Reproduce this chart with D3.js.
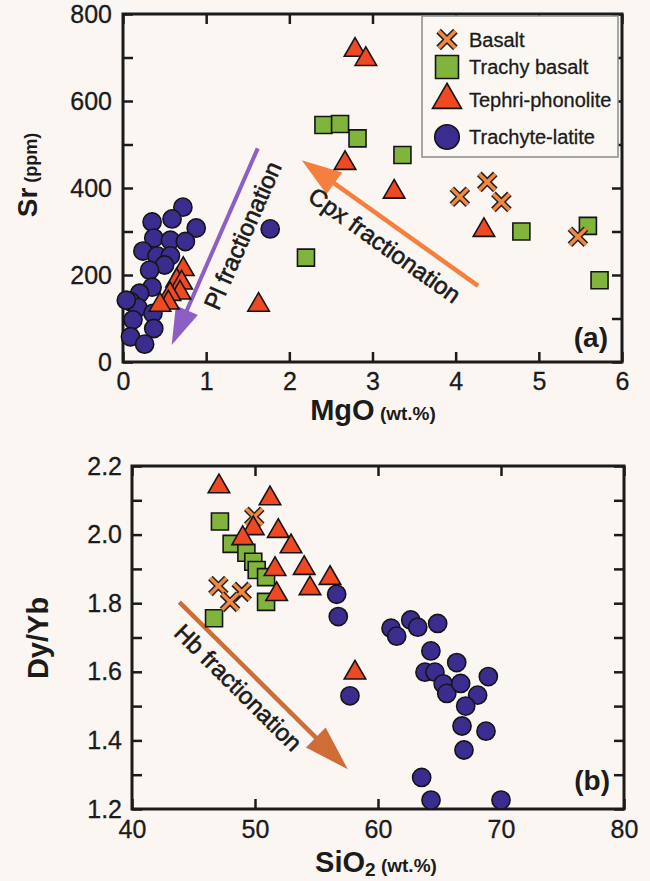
<!DOCTYPE html>
<html>
<head>
<meta charset="utf-8">
<script src="https://cdn.jsdelivr.net/npm/d3@7"></script>
<style>
  body { margin: 0; background: #fbf6f2; }
  svg { display: block; font-family: "Liberation Sans", Arial, Helvetica, sans-serif; }
</style>
</head>
<body>
<svg id="chart" width="650" height="881"></svg>
<script>
// --------------- Data ---------------
const SERIES = ["Basalt", "Trachy basalt", "Tephri-phonolite", "Trachyte-latite"];

// panel (a): MgO (wt.%) vs Sr (ppm)
const mgoBasalt = [4.05, 4.38, 4.55, 5.47];
const srBasalt = [380, 414, 368, 288];
const mgoTrachyBasalt = [2.41, 2.61, 2.82, 3.36, 2.20, 4.79, 5.59, 5.73];
const srTrachyBasalt = [545, 547, 514, 476, 240, 300, 313, 188];
const mgoTephri = [2.79, 2.92, 2.67, 3.26, 4.34, 1.63, 0.725, 0.645, 0.705, 0.685, 0.565, 0.545, 0.445];
const srTephri = [717, 696, 457, 391, 303, 131, 213, 187, 182, 159, 156, 136, 131];
const mgoTrachyte = [0.72, 0.59, 0.35, 0.88, 0.37, 0.57, 0.75, 0.24, 0.41, 0.57, 0.50, 0.32,
  0.35, 0.20, 0.09, 0.18, 0.36, 0.12, 0.37, 0.09, 0.26, 0.04, 1.77];
const srTrachyte = [356, 329, 322, 308, 285, 280, 277, 255, 244, 244, 223, 211,
  172, 158, 139, 125, 112, 97, 77, 58, 41, 142, 306];

// panel (b): SiO2 (wt.%) vs Dy/Yb
const sioBasalt = [49.94, 47.02, 48.92, 47.97];
const dyBasalt = [2.052, 1.850, 1.833, 1.804];
const sioTrachyBasalt = [47.15, 48.1, 49.3, 49.86, 50.14, 50.9, 50.9, 46.67];
const dyTrachyBasalt = [2.038, 1.973, 1.947, 1.921, 1.897, 1.876, 1.804, 1.756];
const sioTephri = [47.07, 51.22, 49.86, 51.89, 49.0, 52.93, 51.63, 54.0, 56.1, 54.47, 51.76, 58.13];
const dyTephri = [2.140, 2.105, 2.018, 2.010, 1.989, 1.965, 1.899, 1.902, 1.873, 1.843, 1.826, 1.597];
const sioTrachyte = [56.64, 56.77, 57.72, 61.06, 61.52, 62.66, 63.23, 64.85, 64.3, 66.4, 63.82, 64.63,
  65.3, 65.59, 66.72, 68.97, 68.1, 67.13, 66.83, 68.78, 66.99, 63.55, 64.31, 70.0];
const dyTrachyte = [1.826, 1.761, 1.530, 1.727, 1.704, 1.751, 1.730, 1.741, 1.661, 1.627, 1.599, 1.599,
  1.565, 1.537, 1.566, 1.586, 1.532, 1.500, 1.442, 1.427, 1.372, 1.292, 1.226, 1.226];

// axis ticks
const mgoTicks = [0, 1, 2, 3, 4, 5, 6];
const srTicks = [0, 100, 200, 300, 400, 500, 600, 700, 800];
const sioTicks = [40, 50, 60, 70, 80];
const dyTicks = [1.2, 1.3, 1.4, 1.5, 1.6, 1.7, 1.8, 1.9, 2.0, 2.1, 2.2];

// fractionation trends: [tail, tip] in data units
const plArrow = [[1.62, 491], [0.585, 39]];
const cpxArrow = [[4.27, 175], [2.15, 464]];
const hbArrow = [[43.85, 1.803], [57.54, 1.316]];

// --------------- Constants ---------------
const COLORS = { Basalt: "#f3873f", "Trachy basalt": "#80b43c", "Tephri-phonolite": "#ef4823", "Trachyte-latite": "#3a2d8f" };
const INK = "#1b1b1b";

const svg = d3.select("#chart");
svg.append("rect").attr("width", 650).attr("height", 881).attr("fill", "#fbf6f2");

const xA = d3.scaleLinear().domain([0, 6]).range([123, 622]);
const yA = d3.scaleLinear().domain([0, 800]).range([362, 14]);
const xB = d3.scaleLinear().domain([40, 80]).range([132, 624]);
const yB = d3.scaleLinear().domain([1.2, 2.2]).range([809, 466]);

// --------------- Helper Functions ---------------
const drawFrame = (g, x, y, o) => {
  const [x0, x1] = x.range(), [y0, y1] = y.range();
  const style = (sel) => {
    sel.select(".domain").remove();
    sel.selectAll(".tick line").attr("stroke", INK).attr("stroke-width", 2.5);
    sel.selectAll(".tick text").attr("fill", INK).attr("font-size", 25)
      .attr("stroke", INK).attr("stroke-width", 0.3);
  };
  g.append("g").attr("transform", `translate(${x0},0)`)
    .call(d3.axisLeft(y).tickValues(o.yTicks).tickSize(-10).tickPadding(o.yPad).tickFormat(o.yFmt))
    .call(style);
  g.append("g").attr("transform", `translate(${x1},0)`)
    .call(d3.axisRight(y).tickValues(o.yTicks).tickSize(-10).tickFormat(""))
    .call(style);
  g.append("g").attr("transform", `translate(0,${y0})`)
    .call(d3.axisBottom(x).tickValues(o.xTicks).tickSize(-10).tickPadding(o.xPad).tickFormat(d3.format("d")))
    .call(style);
  g.append("g").attr("transform", `translate(0,${y1})`)
    .call(d3.axisTop(x).tickValues(o.xTicks).tickSize(-10).tickFormat(""))
    .call(style);
  g.append("rect").attr("x", x0).attr("y", y1).attr("width", x1 - x0).attr("height", y0 - y1)
    .attr("fill", "none").attr("stroke", INK).attr("stroke-width", 3);
};

const symbolPath = (name, k = 1) => {
  if (name === "Basalt") {
    const r = 8 * k;
    return `M${-r},${-r}L${r},${r}M${-r},${r}L${r},${-r}`;
  }
  const type = { "Trachy basalt": d3.symbolSquare, "Tephri-phonolite": d3.symbolTriangle, "Trachyte-latite": d3.symbolCircle }[name];
  const size = { "Trachy basalt": 289, "Tephri-phonolite": 200, "Trachyte-latite": 260 }[name];
  return d3.symbol().type(type).size(size * k * k)();
};

const drawSymbol = (g, name, cx, cy, k = 1) => {
  const s = g.append("g").attr("transform", `translate(${cx},${cy})`);
  if (name === "Basalt") {
    s.append("path").attr("d", symbolPath(name, k)).attr("stroke", "#222").attr("stroke-width", 6.5).attr("fill", "none");
    s.append("path").attr("d", symbolPath(name, k)).attr("stroke", COLORS[name]).attr("stroke-width", 3.5).attr("fill", "none");
  } else {
    s.append("path").attr("d", symbolPath(name, k)).attr("fill", COLORS[name])
      .attr("stroke", "#151515").attr("stroke-width", 1.6);
  }
};

const drawSeries = (g, x, y, name, xs, ys) => {
  xs.forEach((v, i) => drawSymbol(g, name, x(v), y(ys[i])));
};

const drawArrow = (g, x, y, pts, o) => {
  const [x0, y0] = [x(pts[0][0]), y(pts[0][1])];
  const [x1, y1] = [x(pts[1][0]), y(pts[1][1])];
  const len = Math.hypot(x1 - x0, y1 - y0);
  const ux = (x1 - x0) / len, uy = (y1 - y0) / len;
  const bx = x1 - ux * o.head, by = y1 - uy * o.head;
  g.append("line").attr("x1", x0).attr("y1", y0).attr("x2", bx + ux * 3).attr("y2", by + uy * 3)
    .attr("stroke", o.color).attr("stroke-width", o.width);
  g.append("path")
    .attr("d", `M${x1},${y1}L${bx - uy * o.half},${by + ux * o.half}L${bx + uy * o.half},${by - ux * o.half}Z`)
    .attr("fill", o.color);
  // label along the arrow
  let ang = Math.atan2(y1 - y0, x1 - x0) * 180 / Math.PI;
  if (x1 < x0) ang += 180;
  const px = x0 + (x1 - x0) * o.t, py = y0 + (y1 - y0) * o.t;
  g.append("text")
    .attr("transform", `translate(${px},${py}) rotate(${ang})`)
    .attr("y", o.offset)
    .attr("text-anchor", "middle")
    .attr("dominant-baseline", "central")
    .attr("font-size", 24)
    .attr("fill", INK)
    .attr("stroke", INK).attr("stroke-width", 0.6)
    .text(o.label);
};

// --------------- Panel (a) ---------------
const ga = svg.append("g");
drawFrame(ga, xA, yA, {
  yTicks: srTicks, xTicks: mgoTicks, yPad: 11, xPad: 10,
  yFmt: (d) => (d % 200 === 0 ? d : ""),
});
drawArrow(ga, xA, yA, plArrow, { color: "#8d5fc4", width: 4, head: 38, half: 12, t: 0.4, offset: 21, label: "Pl fractionation" });
drawArrow(ga, xA, yA, cpxArrow, { color: "#f47f3e", width: 4.5, head: 40, half: 13.5, t: 0.46, offset: 21, label: "Cpx fractionation" });
drawSeries(ga, xA, yA, "Trachyte-latite", mgoTrachyte, srTrachyte);
drawSeries(ga, xA, yA, "Trachy basalt", mgoTrachyBasalt, srTrachyBasalt);
drawSeries(ga, xA, yA, "Basalt", mgoBasalt, srBasalt);
drawSeries(ga, xA, yA, "Tephri-phonolite", mgoTephri, srTephri);

// legend
const lg = ga.append("g");
lg.append("rect").attr("x", 422).attr("y", 16).attr("width", 196).attr("height", 141)
  .attr("fill", "#fbf7f3").attr("stroke", "#8c8c8c").attr("stroke-width", 1.5);
const legendY = [39.5, 67, 100, 137];
SERIES.forEach((name, i) => {
  drawSymbol(lg, name, 447, legendY[i], name === "Basalt" ? 1.05 : 1.35);
  lg.append("text").attr("x", 469).attr("y", legendY[i] + 7).attr("font-size", 20)
    .attr("fill", INK).attr("stroke", INK).attr("stroke-width", 0.3).text(name);
});

ga.append("text").attr("x", 608).attr("y", 347).attr("text-anchor", "end")
  .attr("font-size", 28).attr("font-weight", "bold").attr("fill", INK).text("(a)");

const ya = ga.append("text").attr("transform", "translate(37,175) rotate(-90)")
  .attr("text-anchor", "middle").attr("font-weight", "bold").attr("fill", INK);
ya.append("tspan").attr("font-size", 28).text("Sr");
ya.append("tspan").attr("font-size", 18).text(" (ppm)");

const xa = ga.append("text").attr("x", 373).attr("y", 420)
  .attr("text-anchor", "middle").attr("font-weight", "bold").attr("fill", INK);
xa.append("tspan").attr("font-size", 29).text("MgO");
xa.append("tspan").attr("font-size", 19).text(" (wt.%)");

// --------------- Panel (b) ---------------
const gb = svg.append("g");
drawFrame(gb, xB, yB, {
  yTicks: dyTicks, xTicks: sioTicks, yPad: 10, xPad: 11,
  yFmt: (d) => (Math.round(d * 10) % 2 === 0 ? d3.format(".1f")(d) : ""),
});
drawArrow(gb, xB, yB, hbArrow, { color: "#cf6d38", width: 4.5, head: 45, half: 14, t: 0.43, offset: 19, label: "Hb fractionation" });
drawSeries(gb, xB, yB, "Trachyte-latite", sioTrachyte, dyTrachyte);
drawSeries(gb, xB, yB, "Trachy basalt", sioTrachyBasalt, dyTrachyBasalt);
drawSeries(gb, xB, yB, "Basalt", sioBasalt, dyBasalt);
drawSeries(gb, xB, yB, "Tephri-phonolite", sioTephri, dyTephri);

gb.append("text").attr("x", 610).attr("y", 790).attr("text-anchor", "end")
  .attr("font-size", 28).attr("font-weight", "bold").attr("fill", INK).text("(b)");

gb.append("text").attr("transform", "translate(48,638) rotate(-90)")
  .attr("text-anchor", "middle").attr("font-weight", "bold").attr("font-size", 29).attr("fill", INK)
  .text("Dy/Yb");

const xb = gb.append("text").attr("x", 376).attr("y", 872)
  .attr("text-anchor", "middle").attr("font-weight", "bold").attr("fill", INK);
xb.append("tspan").attr("font-size", 29).text("SiO");
xb.append("tspan").attr("font-size", 19).attr("dy", 4).text("2");
xb.append("tspan").attr("font-size", 19).attr("dy", -4).text(" (wt.%)");
</script>
</body>
</html>
